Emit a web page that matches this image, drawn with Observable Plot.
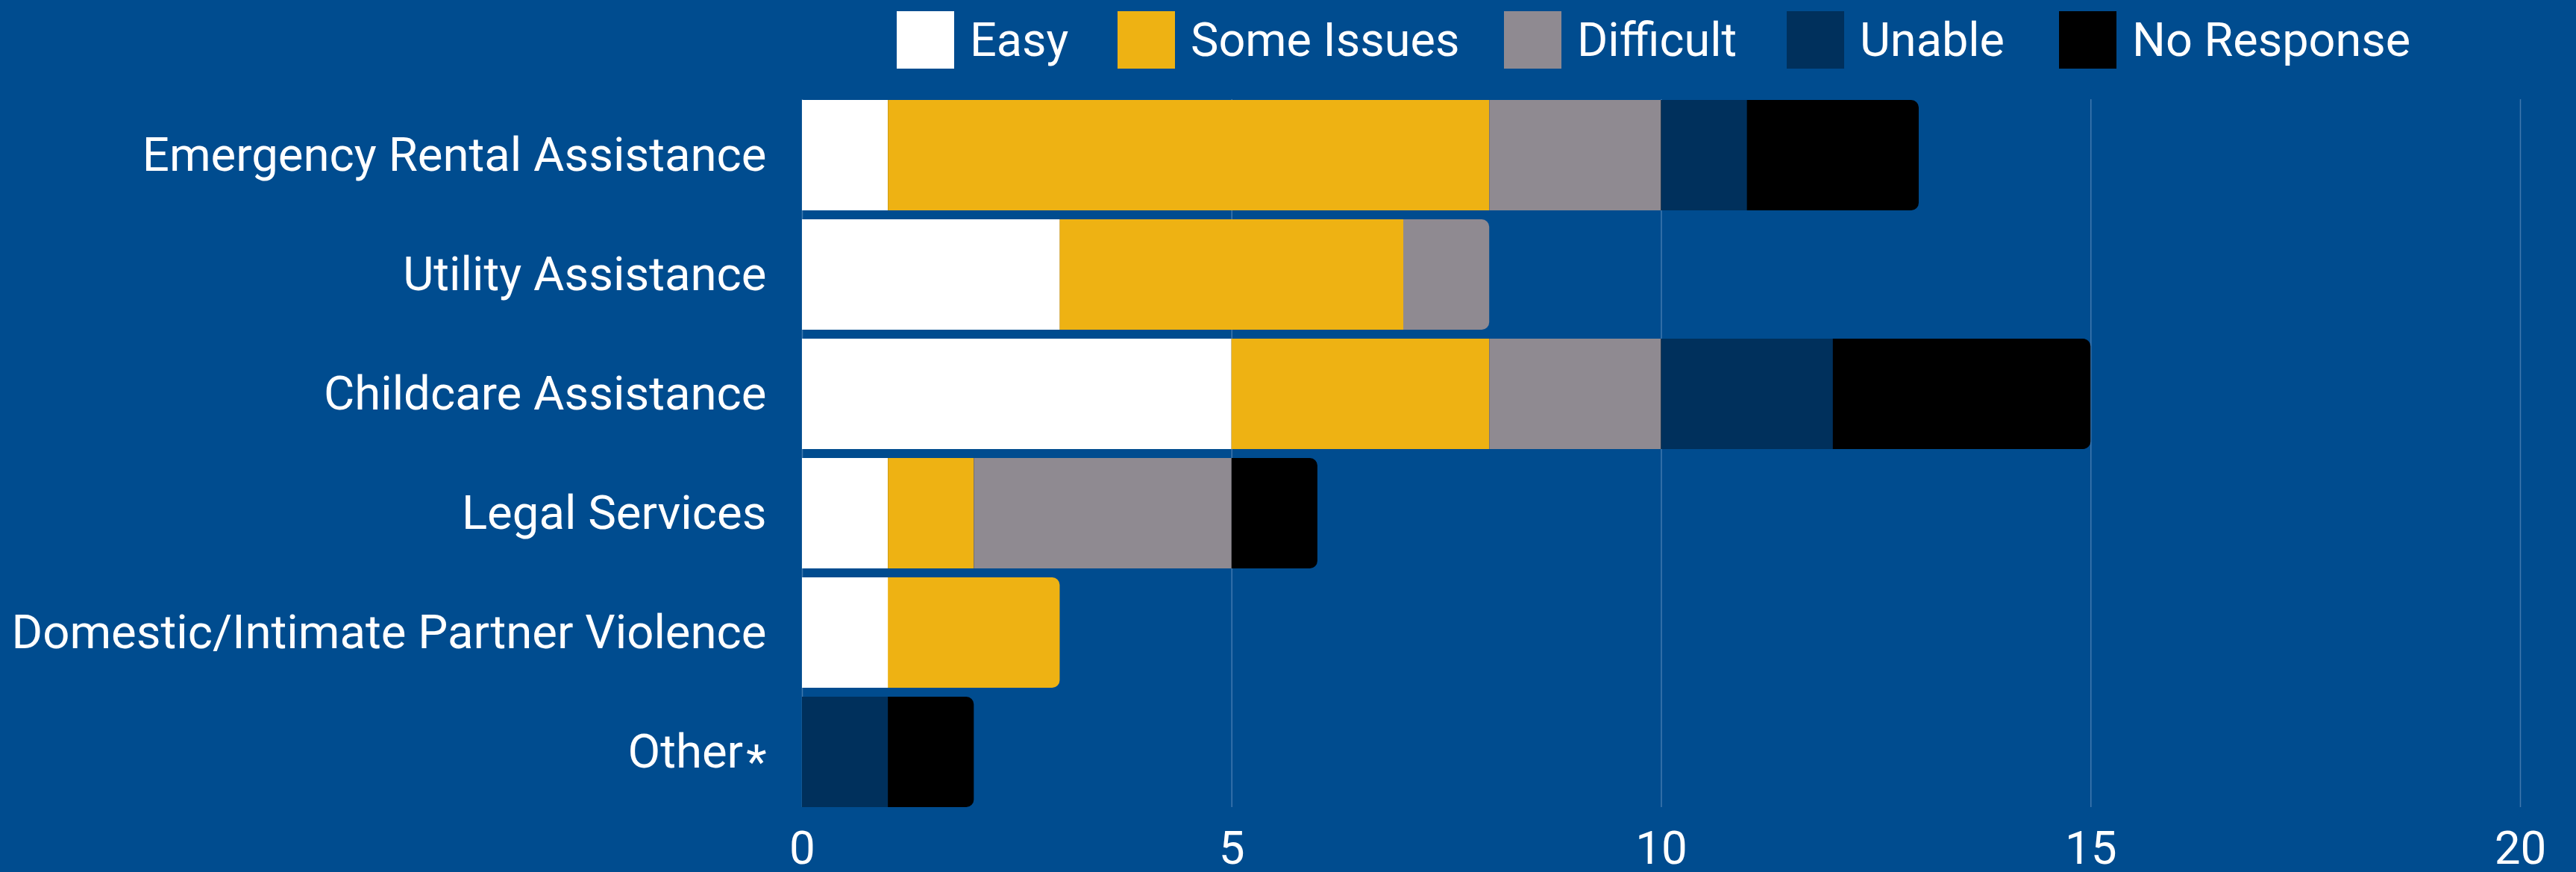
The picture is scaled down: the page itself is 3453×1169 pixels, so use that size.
<!DOCTYPE html>
<html>
<head>
<meta charset="utf-8">
<script src="https://cdn.jsdelivr.net/npm/d3@7"></script>
<script src="https://cdn.jsdelivr.net/npm/@observablehq/plot@0.6"></script>
<style>
  html, body { margin: 0; padding: 0; background: #004C8F; width: 3453px; height: 1169px; overflow: hidden; }
  body { font-family: Roboto, sans-serif; color: #ffffff; }
  #legend { position: relative; height: 110px; }
  #legend .item { position: absolute; top: 15px; display: flex; align-items: center; }
  #legend .sw { width: 77px; height: 77px; flex: none; }
  #legend .lb { font-size: 63px; line-height: 77px; margin-left: 21px; white-space: nowrap; }
  #chart svg { display: block; }
</style>
</head>
<body>
<div id="legend"></div>
<div id="chart"></div>
<script>
// ---- data ----
const categories = [
  "Emergency Rental Assistance",
  "Utility Assistance",
  "Childcare Assistance",
  "Legal Services",
  "Domestic/Intimate Partner Violence",
  "Other*"
];
const series = ["Easy", "Some Issues", "Difficult", "Unable", "No Response"];
const easy       = [1, 3, 5, 1, 1, 0];
const someIssues = [7, 4, 3, 1, 2, 0];
const difficult  = [2, 1, 2, 3, 0, 0];
const unable     = [1, 0, 2, 0, 0, 1];
const noResponse = [2, 0, 3, 1, 0, 1];
const xTicks = [0, 5, 10, 15, 20];
const colors = ["#FFFFFF", "#EEB213", "#8F8A91", "#00305C", "#000000"];

// ---- build table ----
const valuesBySeries = [easy, someIssues, difficult, unable, noResponse];
const rows = [];
categories.forEach((c, i) => {
  series.forEach((s, j) => {
    const v = valuesBySeries[j][i];
    if (v > 0) rows.push({category: c, series: s, value: v});
  });
});
// each category's final segment gets the rounded end (drawn as a rounded total bar underneath)
const lastByCat = new Map();
rows.forEach(r => lastByCat.set(r.category, r));
const inner = rows.filter(r => lastByCat.get(r.category) !== r);
const totals = categories.map(c => ({
  category: c,
  total: d3.sum(rows.filter(r => r.category === c), r => r.value),
  series: lastByCat.get(c).series
}));

// ---- legend (HTML, above the SVG) ----
const legendLeft = [1202, 1498, 2016, 2395, 2760];
const legend = document.getElementById("legend");
series.forEach((s, j) => {
  const item = document.createElement("div");
  item.className = "item";
  item.style.left = legendLeft[j] + "px";
  const sw = document.createElement("div");
  sw.className = "sw";
  sw.style.background = colors[j];
  const lb = document.createElement("div");
  lb.className = "lb";
  lb.textContent = s;
  item.append(sw, lb);
  legend.append(item);
});

// ---- chart ----
const chart = Plot.plot({
  width: 3453,
  height: 1059,
  marginLeft: 1075,
  marginRight: 75,
  marginTop: 23,
  marginBottom: 87,
  style: {fontFamily: "Roboto, sans-serif", fontSize: "62px", color: "#ffffff", background: "transparent", overflow: "visible"},
  x: {domain: [0, 20], ticks: xTicks, label: null},
  y: {domain: categories, paddingInner: 0.075, paddingOuter: 0, label: null},
  color: {domain: series, range: colors},
  marks: [
    Plot.gridX(xTicks, {stroke: "#8FB0D6", strokeOpacity: 0.45, strokeWidth: 1.5}),
    Plot.barX(totals, {x: "total", y: "category", fill: "series", rx: 10}),
    Plot.barX(inner, {x: "value", y: "category", fill: "series"}),
    Plot.axisX({ticks: xTicks, tickSize: 0, tickPadding: 31, fontSize: 62, label: null}),
    Plot.axisY({tickSize: 0, tickPadding: 48, fontSize: 63.5, label: null})
  ]
});
document.getElementById("chart").append(chart);

// lower the asterisk of "Other*" like in the original typesetting
chart.querySelectorAll("text").forEach(t => {
  if (t.textContent === "Other*") {
    t.textContent = "Other";
    const ts = document.createElementNS("http://www.w3.org/2000/svg", "tspan");
    ts.setAttribute("dy", "14");
    ts.setAttribute("dx", "4");
    ts.textContent = "*";
    t.append(ts);
  }
});
</script>
</body>
</html>
